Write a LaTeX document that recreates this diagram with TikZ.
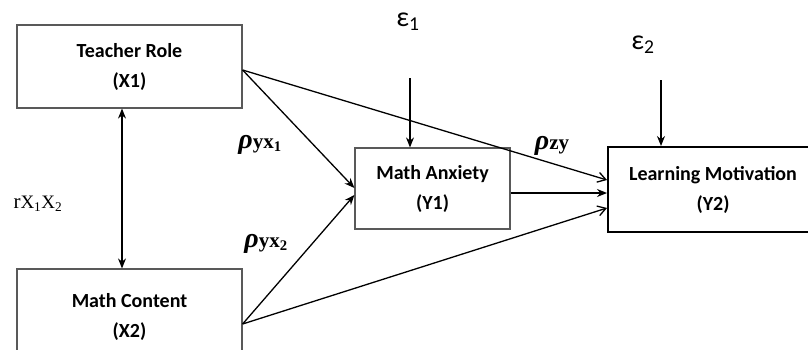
\documentclass[tikz,border=0pt]{standalone}
\usepackage{fontspec}
\setmainfont{Carlito}
\newfontfamily\tnr{Liberation Serif}
\usetikzlibrary{arrows.meta,calc}
\begin{document}
\begin{tikzpicture}[x=1pt,y=-1pt,
  boxtext/.style={font=\fontsize{20}{30}\selectfont\bfseries,align=center},
  graybox/.style={draw=black!65,line width=1.2pt,boxtext,inner sep=0pt},
  blackbox/.style={draw=black,line width=2pt,boxtext,inner sep=0pt},
  link/.style={line width=1.3pt},
  fill tip/.style={-{Stealth[length=10pt,width=8pt]}},
  open tip/.style={-{Straight Barb[length=8pt,width=10pt,line width=1.3pt]}},
  plabel/.style={font=\tnr\bfseries}]
\useasboundingbox (0,0) rectangle (808,349);
\clip (0,0) rectangle (808,349);
% boxes
\node[graybox,minimum width=225pt,minimum height=83pt] (tr) at (129.5,66.5) {Teacher Role\\(X1)};
\node[graybox,minimum width=225pt,minimum height=96pt] (mc) at (129.5,317) {Math Content\\(X2)};
\node[graybox,minimum width=155pt,minimum height=81pt] (ma) at (432.5,188.5) {Math Anxiety\\(Y1)};
\node[blackbox,minimum width=210pt,minimum height=85pt,anchor=west] (lm) at (607,189.5) {Learning Motivation\\(Y2)};
% error terms
\node[font=\fontsize{28}{28}\selectfont] (e1) at (408,22) {ε\textsubscript{1}};
\node[font=\fontsize{28}{28}\selectfont] (e2) at (643,45) {ε\textsubscript{2}};
\coordinate (e1s) at (410,78);
\coordinate (e2s) at (661,80);
\draw[link,fill tip] (e1s) -- (e1s |- ma.north);
\draw[link,fill tip] (e2s) -- (e2s |- lm.north);
% correlation
\draw[link,{Stealth[length=10pt,width=8pt]}-{Stealth[length=10pt,width=8pt]}] ([xshift=-7.5pt]tr.south) -- ([xshift=-7.5pt]mc.north);
\node[font=\tnr\fontsize{21}{21}\selectfont,anchor=west] (r12) at (10,204) {r{\fontsize{19}{19}\selectfont X\textsubscript{1}X\textsubscript{2}}};
% paths
\draw[link,fill tip] ([yshift=-3.5pt]tr.east) -- ([yshift=0.5pt]ma.west);
\draw[link,fill tip] ([yshift=-7pt]mc.east) -- ([yshift=-6.5pt]ma.west);
\draw[link,open tip] ([yshift=-3.5pt]tr.east) -- ([yshift=9.5pt]lm.west);
\draw[link,fill tip] ([yshift=-4.5pt]ma.east) -- ([yshift=-3.5pt]lm.west);
\draw[link,open tip] ([yshift=-7pt]mc.east) -- ([yshift=-18.5pt]lm.west);
% path labels
\node[plabel] (p1) at (260,145) {{\fontsize{28}{28}\selectfont\itshape ρ}{\fontsize{21}{21}\selectfont yx\textsubscript{1}}};
\node[plabel] (p2) at (266,244) {{\fontsize{28}{28}\selectfont\itshape ρ}{\fontsize{21}{21}\selectfont yx\textsubscript{2}}};
\node[plabel] (p3) at (552,146) {{\fontsize{28}{28}\selectfont\itshape ρ}{\fontsize{21}{21}\selectfont zy}};
\end{tikzpicture}
\end{document}
